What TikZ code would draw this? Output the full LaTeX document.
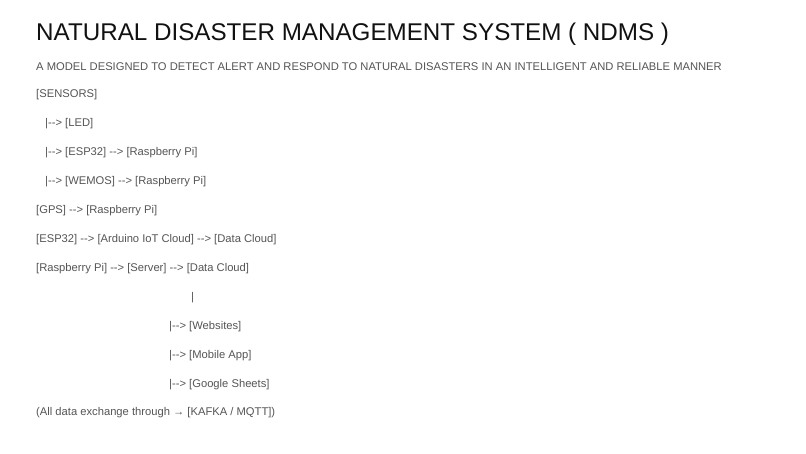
\documentclass[tikz,border=0pt]{standalone}
\usepackage{fontspec}
\setmainfont{Liberation Sans}[Ligatures=TeXOff]
\definecolor{bodygray}{HTML}{555555}
\definecolor{titleblack}{HTML}{111111}
\begin{document}
\begin{tikzpicture}[x=1pt,y=-1pt,
  txt/.style={anchor=base west,inner sep=0pt,text=bodygray,font=\fontsize{11.2}{13}\selectfont},
  ttl/.style={anchor=base west,inner sep=0pt,text=titleblack,font=\fontsize{24.2}{28}\selectfont}]
\useasboundingbox (0,0) rectangle (806,453);
\fill[white] (0,0) rectangle (806,453);
\node[ttl] (title) at (36,40.5) {NATURAL DISASTER MANAGEMENT SYSTEM ( NDMS )};
\node[txt] (sub) at (36,70) {A MODEL DESIGNED TO DETECT ALERT AND RESPOND TO NATURAL DISASTERS IN AN INTELLIGENT AND RELIABLE MANNER};
\node[txt] (l1) at (36,97) {[SENSORS]};
\node[txt] (l2) at (45,126) {|-{}-> [LED]};
\node[txt] (l3) at (45,155) {|-{}-> [ESP32] -{}-> [Raspberry Pi]};
\node[txt] (l4) at (45,184) {|-{}-> [WEMOS] -{}-> [Raspberry Pi]};
\node[txt] (l5) at (36,213) {[GPS] -{}-> [Raspberry Pi]};
\node[txt] (l6) at (36,242) {[ESP32] -{}-> [Arduino IoT Cloud] -{}-> [Data Cloud]};
\node[txt] (l7) at (36,271) {[Raspberry Pi] -{}-> [Server] -{}-> [Data Cloud]};
\node[txt] (l8) at (191,300) {|};
\node[txt] (l9) at (169,329) {|-{}-> [Websites]};
\node[txt] (l10) at (169,358) {|-{}-> [Mobile App]};
\node[txt] (l11) at (169,387) {|-{}-> [Google Sheets]};
\node[txt] (l12) at (36,415.5) {(All data exchange through → [KAFKA / MQTT])};
\end{tikzpicture}
\end{document}
